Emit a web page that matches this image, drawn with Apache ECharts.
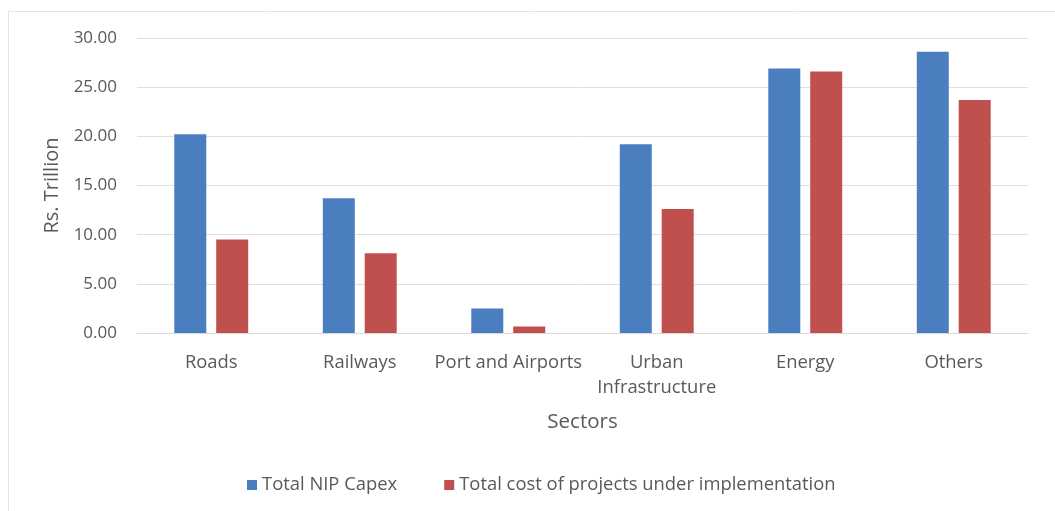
<!DOCTYPE html>
<html>
<head>
<meta charset="utf-8">
<script src="https://cdn.jsdelivr.net/npm/echarts@6/dist/echarts.min.js"></script>
<style>html,body{margin:0;padding:0;background:#fff}#c{width:1055px;height:511px}</style>
</head>
<body>
<div id="c"></div>
<script>
const categories = ['Roads', 'Railways', 'Port and Airports', 'Urban\nInfrastructure', 'Energy', 'Others'];
const seriesNames = ['Total NIP Capex', 'Total cost of projects under implementation'];
const nipCapex = [20.2, 13.7, 2.5, 19.2, 26.9, 28.6];
const projectsCost = [9.5, 8.1, 0.65, 12.6, 26.6, 23.7];
const yTicks = [0, 5, 10, 15, 20, 25, 30];

const FONT = 'Open Sans';
const TXT = '#595959';
const chart = echarts.init(document.getElementById('c'), null, {renderer: 'canvas'});
chart.setOption({
  backgroundColor: '#fff',
  animation: false,
  textStyle: {fontFamily: FONT},
  graphic: [{
    type: 'rect', shape: {x: 8.5, y: 11.5, width: 1100, height: 600},
    style: {fill: 'none', stroke: '#e4e4e4', lineWidth: 1}, silent: true, z: -1
  }],
  grid: {left: 137, right: 27, top: 38, bottom: 178, containLabel: false},
  legend: {
    left: 242, top: 471, itemWidth: 10, itemHeight: 10, itemGap: 47,
    icon: 'rect',
    textStyle: {fontFamily: FONT, fontSize: 18.4, color: TXT},
    data: seriesNames
  },
  xAxis: {
    type: 'category', data: categories,
    name: 'Sectors', nameLocation: 'middle', nameGap: 79,
    nameTextStyle: {fontFamily: FONT, fontSize: 20.5, color: TXT},
    axisLine: {lineStyle: {color: '#d9d9d9'}},
    axisTick: {show: false},
    axisLabel: {fontFamily: FONT, fontSize: 18.4, color: TXT, margin: 17, lineHeight: 25, interval: 0}
  },
  yAxis: {
    type: 'value', min: yTicks[0], max: yTicks[yTicks.length - 1], interval: 5,
    name: 'Rs. Trillion', nameLocation: 'middle', nameGap: 75,
    nameTextStyle: {fontFamily: FONT, fontSize: 20, color: TXT},
    axisLine: {show: false}, axisTick: {show: false},
    splitLine: {lineStyle: {color: '#e0e0e0'}},
    axisLabel: {fontFamily: FONT, fontSize: 17, color: TXT, margin: 20,
      formatter: v => v.toFixed(2)}
  },
  series: [
    {name: seriesNames[0], type: 'bar', data: nipCapex, barWidth: 32, barGap: '31%',
      itemStyle: {color: '#4A7EBF'}},
    {name: seriesNames[1], type: 'bar', data: projectsCost, barWidth: 32,
      itemStyle: {color: '#C0504D'}}
  ]
});
</script>
</body>
</html>
